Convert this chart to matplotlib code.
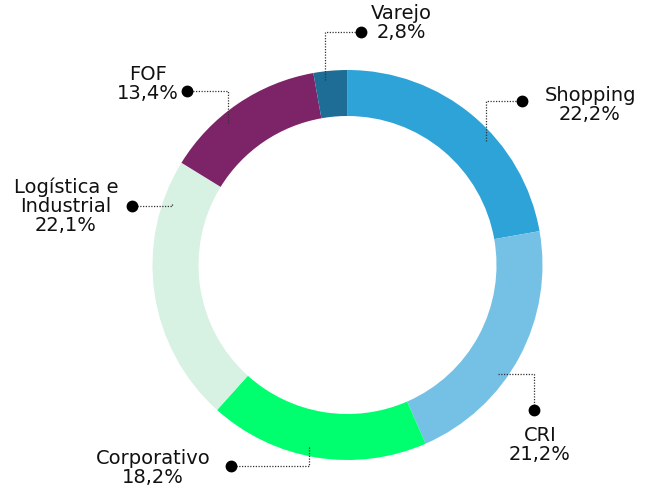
import numpy as np
import matplotlib
matplotlib.use("Agg")
import matplotlib.pyplot as plt

# ---- data ----
categories = ["Shopping", "CRI", "Corporativo", "Logística e\nIndustrial", "FOF", "Varejo"]
values = [22.2, 21.2, 18.2, 22.1, 13.4, 2.8]
value_labels = ["22,2%", "21,2%", "18,2%", "22,1%", "13,4%", "2,8%"]
colors = ["#2ea3d8", "#74c1e5", "#00ff6e", "#d7f1e3", "#7d2469", "#1d6d96"]

# ---- layout (pixel coords, y measured from top) ----
W, H = 652, 488
cx, cy_top = 347.5, 265
R, ring_w = 195, 46
anchor_angles = [48, 126, 192, 289, 320, 353]   # degrees clockwise from 12 o'clock
anchor_r = 186
dot_pos = [(522, 101), (534, 410), (231, 466), (132, 206), (187, 91), (361, 32)]
elbow_mode = ["v", "h", "v", "v", "v", "v"]   # v: vertical first from anchor, h: horizontal first
text_pos = [(590, 105), (540, 445), (153, 468), (66, 206), (148, 84), (401, 23)]

fig = plt.figure(figsize=(W / 100, H / 100), dpi=100)
ax = fig.add_axes([0, 0, 1, 1])

def Y(y):
    return H - y

ax.pie(values, colors=colors, startangle=90, counterclock=False,
       center=(cx, Y(cy_top)), radius=R,
       wedgeprops=dict(width=ring_w, linewidth=0), frame=True)
ax.set_xlim(0, W)
ax.set_ylim(0, H)
ax.set_aspect("equal")
ax.axis("off")

font = "DejaVu Sans"
for i, cat in enumerate(categories):
    th = np.deg2rad(anchor_angles[i])
    ax_x = cx + anchor_r * np.sin(th)
    ax_y = cy_top - anchor_r * np.cos(th)
    dx, dy = dot_pos[i]
    if elbow_mode[i] == "v":
        xs = [ax_x, ax_x, dx]
        ys = [ax_y, dy, dy]
    else:
        xs = [ax_x, dx, dx]
        ys = [ax_y, ax_y, dy]
    ax.plot(xs, [Y(v) for v in ys], color="#333333", lw=0.9, ls=(0, (1, 1.2)), zorder=3)
    ax.plot([dx], [Y(dy)], "o", color="black", ms=7.5, zorder=4)
    tx, ty = text_pos[i]
    ax.text(tx, Y(ty), cat + "\n" + value_labels[i], ha="center", va="center",
            fontsize=14, family=font, color="#111111", linespacing=1.0, zorder=5)

fig.savefig("out.png", dpi=100)
